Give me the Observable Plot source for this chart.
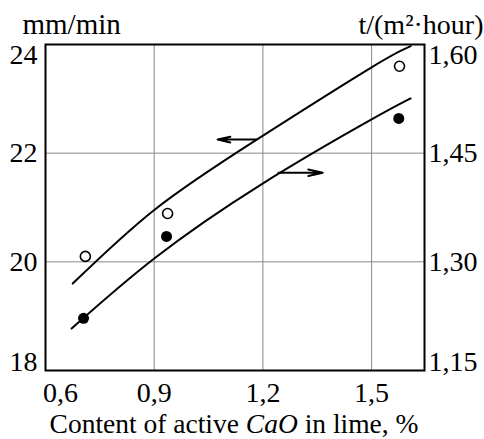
<!DOCTYPE html>
<html><head><meta charset="utf-8">
<script src="https://cdn.jsdelivr.net/npm/d3@7"></script>
<script src="https://cdn.jsdelivr.net/npm/@observablehq/plot@0.6"></script>
<style>body{margin:0;background:#fff}</style>
</head><body><div id="chart"></div>
<script>
// measured points (left axis, mm/min) - open circles
const openX = [0.710, 0.937, 1.577];
const openY = [20.10, 20.89, 23.60];
// measured points (right axis, t/(m2·hour)) - filled circles
const filledX = [0.705, 0.934, 1.575];
const filledY = [1.222, 1.335, 1.498];
// fitted curves
const upperX = [0.675, 0.901, 1.183, 1.500, 1.608];
const upperY = [19.60, 20.96, 22.25, 23.58, 23.97];
const lowerX = [0.672, 0.901, 1.196, 1.500, 1.608];
const lowerY = [1.208, 1.305, 1.407, 1.4965, 1.5255];
// axis pointers
const leftArrowX = [1.183, 1.075];
const leftArrowY = 22.25;
const rightArrowX = [1.243, 1.365];
const rightArrowY = 1.423;
// ticks
const xTicks = [0.6, 0.9, 1.2, 1.5];
const leftTicks = [18, 20, 22, 24];
const rightTicks = [1.15, 1.30, 1.45, 1.60];
const leftTitle = "mm/min";
const rightTitle = "t/(m²·hour)";
const xTitle = "Content of active CaO in lime, %";

const L0 = 18, L1 = 24, R0 = 1.15, R1 = 1.60;
const toLeft = v => L0 + (v - R0) * (L1 - L0) / (R1 - R0);
const fromLeft = d => R0 + (d - L0) * (R1 - R0) / (L1 - L0);
const comma = d => d.toFixed(1).replace(".", ",");
const comma2 = d => d.toFixed(2).replace(".", ",");
const intFmt = d => String(Math.round(d));
const FS = 28;
const font = "Liberation Serif, Times New Roman, serif";

const openPts = openX.map((x, i) => ({x, y: openY[i]}));
const filledPts = filledX.map((x, i) => ({x, y: toLeft(filledY[i])}));
const upper = upperX.map((x, i) => ({x, y: upperY[i]}));
const lower = lowerX.map((x, i) => ({x, y: toLeft(lowerY[i])}));
const arrows = [
  {x1: leftArrowX[0], x2: leftArrowX[1], y: leftArrowY},
  {x1: rightArrowX[0], x2: rightArrowX[1], y: toLeft(rightArrowY)}
];

const chart = Plot.plot({
  width: 484, height: 439,
  marginTop: 44, marginBottom: 69, marginLeft: 45, marginRight: 60,
  style: {fontFamily: font, fontSize: FS + "px", background: "white", color: "black"},
  x: {domain: [0.6, 1.646]},
  y: {domain: [L0, L1]},
  marks: [
    Plot.gridX([0.9, 1.2, 1.5], {stroke: "#888", strokeOpacity: 1, strokeWidth: 1}),
    Plot.gridY([20, 22], {stroke: "#888", strokeOpacity: 1, strokeWidth: 1}),
    Plot.frame({stroke: "black", strokeWidth: 2}),
    Plot.axisX(xTicks.slice(1), {tickSize: 0, tickPadding: 12, tickFormat: comma, fontSize: FS, label: null}),
    Plot.axisX(xTicks.slice(0, 1), {tickSize: 0, tickPadding: 12, tickFormat: comma, fontSize: FS, label: null, dx: 15}),
    Plot.axisY(leftTicks.slice(1, 3), {tickSize: 0, tickPadding: 8, tickFormat: intFmt, fontSize: FS, label: null}),
    Plot.axisY([leftTicks[3]], {tickSize: 0, tickPadding: 8, tickFormat: intFmt, fontSize: FS, label: null, dy: 11}),
    Plot.axisY([leftTicks[0]], {tickSize: 0, tickPadding: 8, tickFormat: intFmt, fontSize: FS, label: null, dy: -8}),
    Plot.axisY(rightTicks.slice(1, 3).map(toLeft), {anchor: "right", tickSize: 0, tickPadding: 4, fontSize: FS, label: null, tickFormat: d => comma2(fromLeft(d))}),
    Plot.axisY([toLeft(rightTicks[3])], {anchor: "right", tickSize: 0, tickPadding: 4, fontSize: FS, label: null, dy: 11, tickFormat: d => comma2(fromLeft(d))}),
    Plot.axisY([toLeft(rightTicks[0])], {anchor: "right", tickSize: 0, tickPadding: 4, fontSize: FS, label: null, dy: -8, tickFormat: d => comma2(fromLeft(d))}),
    Plot.line(upper, {x: "x", y: "y", curve: "natural", stroke: "black", strokeWidth: 2}),
    Plot.line(lower, {x: "x", y: "y", curve: "natural", stroke: "black", strokeWidth: 2}),
    Plot.dot(openPts, {x: "x", y: "y", r: 5, stroke: "black", strokeWidth: 1.6, fill: "white"}),
    Plot.dot(filledPts, {x: "x", y: "y", r: 5.5, fill: "black", stroke: "none"}),
    Plot.arrow(arrows, {x1: "x1", x2: "x2", y1: "y", y2: "y", stroke: "black", strokeWidth: 2, headAngle: 25, headLength: 13}),
    Plot.text([leftTitle], {frameAnchor: "top-left", textAnchor: "start", lineAnchor: "bottom", dx: -23, dy: -11, fontSize: 29, text: d => d}),
    Plot.text([rightTitle], {frameAnchor: "top-right", textAnchor: "end", lineAnchor: "bottom", dx: 59, dy: -11, fontSize: 28, text: d => d}),
    Plot.text([xTitle], {frameAnchor: "bottom", lineAnchor: "bottom", dy: 62, dx: -1, fontSize: 27.5, text: d => d})
  ]
});
document.getElementById("chart").appendChild(chart);
// italicise the chemical formula in the x title
d3.select(chart).selectAll("text").each(function() {
  const t = d3.select(this);
  if (t.text() === xTitle) {
    const parts = xTitle.split("CaO");
    t.text(null);
    t.append("tspan").text(parts[0]);
    t.append("tspan").attr("font-style", "italic").text("CaO");
    t.append("tspan").text(parts[1]);
  }
});
</script>
</body></html>
